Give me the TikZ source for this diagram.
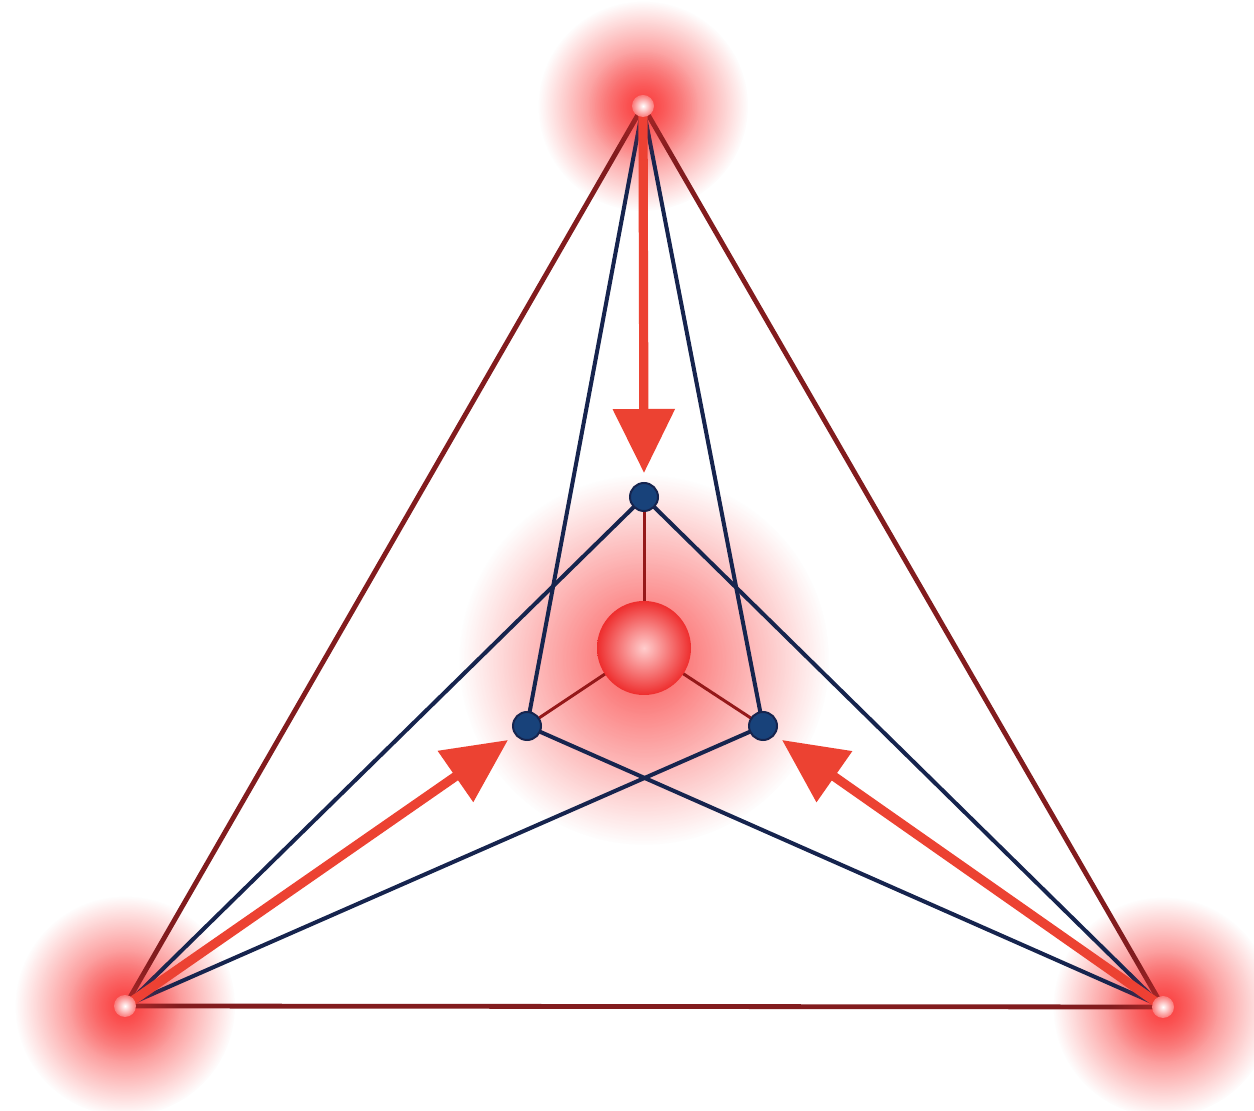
\documentclass[tikz,border=0pt]{standalone}
\usetikzlibrary{arrows.meta,fadings,shadings}
\definecolor{maroon}{RGB}{130,28,30}
\definecolor{navy}{RGB}{22,36,78}
\definecolor{dotblue}{RGB}{24,66,122}
\definecolor{arrowred}{RGB}{236,66,50}
\definecolor{glowred}{RGB}{250,60,60}
\tikzfading[name=glowfade, inner color=transparent!0, outer color=transparent!100]
\tikzset{
  glow/.style={fill=glowred, path fading=glowfade},
  core/.style={circle, minimum size=11pt, inner sep=0pt, shading=radial, inner color=white, outer color={rgb,255:red,250;green,120;blue,120}},
  outerline/.style={draw=maroon, line width=2.4pt},
  blueline/.style={draw=navy, line width=2pt},
  spoke/.style={draw=maroon!85!red, line width=1.5pt},
  bluedot/.style={circle, fill=dotblue, draw=navy, line width=1pt, minimum size=14pt, inner sep=0pt},
  sphere/.style={circle, minimum size=47pt, inner sep=0pt, shading=radial, inner color={rgb,255:red,255;green,205;blue,205}, outer color={rgb,255:red,238;green,45;blue,45}},
  redarrow/.style={draw=arrowred, line width=4.6pt, -{Triangle[length=32pt,width=30pt,fill=arrowred]}},
}
\begin{document}
\begin{tikzpicture}[x=0.5pt,y=-0.5pt]
\useasboundingbox (0,0) rectangle (1254,1111);
\fill[white] (0,0) rectangle (1254,1111);
% positions
\coordinate (T) at (643,106);
\coordinate (BL) at (125,1006);
\coordinate (BR) at (1163,1007);
\coordinate (C) at (644,648);
\coordinate (A1) at (644,473);
\coordinate (A2) at (508,740);
\coordinate (A3) at (782,740);
\coordinate (D1p) at (644,497);
\coordinate (D2p) at (527,726);
\coordinate (D3p) at (763,726);
% glows
\fill[glow] (T) circle (105);
\fill[glow] (BL) circle (110);
\fill[glow] (BR) circle (110);
\fill[glow, opacity=0.85] (644,660) circle (185);
% outer triangle
\draw[outerline, line join=round] (T) -- (BR) -- (BL) -- cycle;
% blue lines
\draw[blueline] (T) -- (D2p);
\draw[blueline] (T) -- (D3p);
\draw[blueline] (BL) -- (D1p);
\draw[blueline] (BL) -- (D3p);
\draw[blueline] (BR) -- (D1p);
\draw[blueline] (BR) -- (D2p);
% spokes
\draw[spoke] (C) -- (D1p);
\draw[spoke] (C) -- (D2p);
\draw[spoke] (C) -- (D3p);
% sphere and dots
\node[sphere] (S) at (C) {};
\node[bluedot] (D1) at (D1p) {};
\node[bluedot] (D2) at (D2p) {};
\node[bluedot] (D3) at (D3p) {};
% arrows
\draw[redarrow] (T) -- (A1);
\draw[redarrow] (BL) -- (A2);
\draw[redarrow] (BR) -- (A3);
% soft glow over the vertex ends
\fill[glow, opacity=0.35] (T) circle (55);
\fill[glow, opacity=0.35] (BL) circle (55);
\fill[glow, opacity=0.35] (BR) circle (55);
% vertex cores
\node[core] (TV) at (T) {};
\node[core] (BLV) at (BL) {};
\node[core] (BRV) at (BR) {};
\end{tikzpicture}
\end{document}
